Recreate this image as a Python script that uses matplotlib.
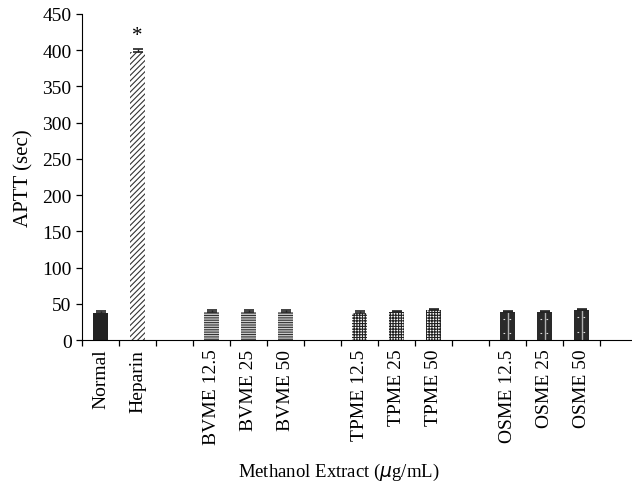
import matplotlib
matplotlib.use("Agg")
import matplotlib.pyplot as plt
import numpy as np

# APTT clotting times (seconds)
categories = ["Normal", "Heparin", "BVME 12.5", "BVME 25", "BVME 50",
              "TPME 12.5", "TPME 25", "TPME 50",
              "OSME 12.5", "OSME 25", "OSME 50"]
values = [37.5, 398, 39, 39, 39, 37.5, 38.5, 41, 38.5, 38.5, 41.5]
errors = [2, 3, 2, 2, 2, 2, 2, 2, 1.5, 1.5, 1.5]
slots = [0, 1, 3, 4, 5, 7, 8, 9, 11, 12, 13]
yticks = [0, 50, 100, 150, 200, 250, 300, 350, 400, 450]

plt.rcParams["font.family"] = ["Liberation Serif", "DejaVu Serif"]
plt.rcParams["hatch.linewidth"] = 0.8

fig = plt.figure(figsize=(6.32, 4.85), dpi=100)
ax = fig.add_axes([82 / 632, (485 - 341) / 485, 550 / 632, 326 / 485])

styles = [
    dict(color="#222222", edgecolor="#222222", hatch=None),
    dict(color="white", edgecolor="#333333", hatch="//////"),
    dict(color="#cccccc", edgecolor="#333333", hatch="-------"),
    dict(color="#cccccc", edgecolor="#333333", hatch="-------"),
    dict(color="#cccccc", edgecolor="#333333", hatch="-------"),
    dict(color="white", edgecolor="#222222", hatch="++++++"),
    dict(color="white", edgecolor="#222222", hatch="++++++"),
    dict(color="white", edgecolor="#222222", hatch="++++++"),
    dict(color="#2a2a2a", edgecolor="#2a2a2a", hatch=None),
    dict(color="#2a2a2a", edgecolor="#2a2a2a", hatch=None),
    dict(color="#2a2a2a", edgecolor="#2a2a2a", hatch=None),
]

centers = np.array(slots) + 0.5
for i, (c, v, e, st) in enumerate(zip(centers, values, errors, styles)):
    ax.bar(c, v, width=0.4, color=st["color"], edgecolor=st["edgecolor"],
           hatch=st["hatch"], linewidth=0)
    if categories[i].startswith("OSME"):
        # light centre stripe with small dashes on the dark bars
        ax.vlines(c, 0, v, color="#b0b0b0", lw=1)
        for frac in (0.25, 0.75):
            ax.plot([c - 0.13, c - 0.05], [v * frac, v * frac], color="#dddddd",
                    lw=0.8, ls=(0, (1.5, 1.5)))
            ax.plot([c + 0.05, c + 0.13], [v * frac, v * frac], color="#dddddd",
                    lw=0.8, ls=(0, (1.5, 1.5)))
    ax.errorbar(c, v, yerr=[[0], [e]], fmt="none", ecolor="#222222",
                elinewidth=1, capsize=3.5, capthick=1.2)

ax.text(centers[1], 420, "*", ha="center", va="center", fontsize=15)

ax.set_xlim(0, 550 / 37)
ax.set_ylim(0, 450)
ax.set_yticks(yticks)
ax.set_xticks(np.arange(0, 15))
ax.set_xticklabels([])
for c, lab in zip(centers, categories):
    ax.text(c, -12, lab, rotation=90, ha="center", va="top", fontsize=14)

ax.spines["top"].set_visible(False)
ax.spines["right"].set_visible(False)
ax.tick_params(axis="both", direction="out", length=4, width=0.9, labelsize=14)

ax.set_ylabel("APTT (sec)", fontsize=15, labelpad=6)
fig.text(339 / 632, 1 - 472 / 485, r"Methanol Extract ($\mu$g/mL)",
         ha="center", va="center", fontsize=13.5)

fig.savefig("out.png", dpi=100)
